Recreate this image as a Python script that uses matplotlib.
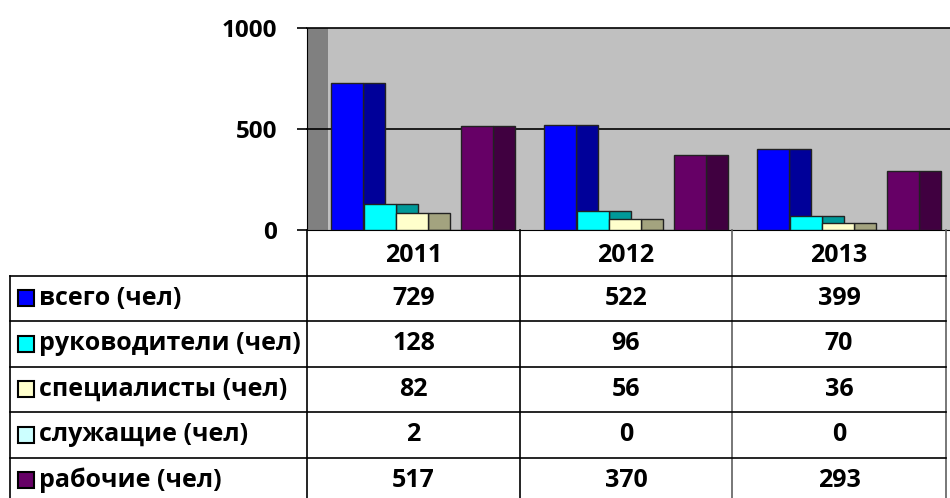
import matplotlib
matplotlib.use("Agg")
import matplotlib.pyplot as plt
from matplotlib.patches import Rectangle

plt.rcParams['font.family'] = ['Open Sans', 'DejaVu Sans']

# ---- data ----
years = ["2011", "2012", "2013"]
series_names = ["всего (чел)", "руководители (чел)", "специалисты (чел)",
                "служащие (чел)", "рабочие (чел)"]
vsego = [729, 522, 399]
rukovoditeli = [128, 96, 70]
specialisty = [82, 56, 36]
sluzhashchie = [2, 0, 0]
rabochie = [517, 370, 293]
series_values = [vsego, rukovoditeli, specialisty, sluzhashchie, rabochie]
y_ticks = [0, 500, 1000]

front_colors = ["#0000FF", "#00FFFF", "#FFFFCC", "#CCFFFF", "#660066"]
side_colors = ["#000099", "#009999", "#A3A37F", "#99CCCC", "#400040"]

W, H = 950, 498
fig = plt.figure(figsize=(W / 100, H / 100), dpi=100)

# chart axes in pixel layout
x0, x1 = 307, 950
y_top, y_zero = 28, 230
cat_w = 213.0
ax = fig.add_axes([x0 / W, (H - y_zero) / H, (x1 - x0) / W, (y_zero - y_top) / H])
ax.set_facecolor("#C0C0C0")
ax.set_xlim(-0.5, -0.5 + (x1 - x0) / cat_w)
ax.set_ylim(0, 1000)

# left wall
ax.add_patch(Rectangle((-0.5, 0), 21 / cat_w, 1000, facecolor="#808080",
                       edgecolor="none", zorder=0.5))
for yv in y_ticks[1:]:
    ax.axhline(yv, color="black", lw=1.2, zorder=1, clip_on=False)

off0 = 24 / cat_w
slot = 32.5 / cat_w
fw = 32 / cat_w
sw = 22 / cat_w
z = 2
for g in range(len(years)):
    for i, vals in enumerate(series_values):
        left = g - 0.5 + off0 + i * slot
        ax.bar(left + fw, vals[g], width=sw, align="edge", color=side_colors[i],
               edgecolor="#222222", lw=1, zorder=z)
        z += 1
        ax.bar(left, vals[g], width=fw, align="edge", color=front_colors[i],
               edgecolor="#222222", lw=1, zorder=z)
        z += 1

for s in ["top", "right"]:
    ax.spines[s].set_visible(False)
ax.spines["left"].set_color("black")
ax.spines["bottom"].set_color("black")
ax.set_xticks([])
ax.set_yticks(y_ticks)
ax.set_yticklabels([str(t) for t in y_ticks], fontsize=17.5, fontweight="bold")
ax.tick_params(axis="y", length=7.5, width=1.2, pad=14, direction="out")

# ---- data table ----
tab = fig.add_axes([0, 0, 1, 1], facecolor="none")
tab.set_xlim(0, W)
tab.set_ylim(H, 0)
tab.axis("off")
col_edges = [307, 520, 732, 946]
row_edges = [230, 275.5, 321, 366.5, 412, 457.5, 503]
left_edge = 10
lc = "#000000"
for i, xe in enumerate(col_edges):
    tab.plot([xe, xe], [row_edges[0], row_edges[-1]], color=lc if i < 2 else "#606060", lw=1.2)
tab.plot([left_edge, left_edge], [row_edges[1], row_edges[-1]], color=lc, lw=1.2)
for ye in row_edges[1:]:
    tab.plot([left_edge, col_edges[-1]], [ye, ye], color=lc, lw=1.2)

fs = 18
for j, yr in enumerate(years):
    cx = (col_edges[j] + col_edges[j + 1]) / 2
    cy = (row_edges[0] + row_edges[1]) / 2 + 3
    tab.text(cx, cy, yr, ha="center", va="center", fontsize=fs, fontweight="bold")

for i, name in enumerate(series_names):
    cy = (row_edges[i + 1] + row_edges[i + 2]) / 2
    tab.add_patch(Rectangle((18, cy - 8), 16, 16, facecolor=front_colors[i],
                            edgecolor="black", lw=1.5))
    tab.text(39, cy, name, ha="left", va="center", fontsize=fs, fontweight="bold")
    for j in range(len(years)):
        cx = (col_edges[j] + col_edges[j + 1]) / 2
        tab.text(cx, cy, str(series_values[i][j]), ha="center", va="center",
                 fontsize=fs, fontweight="bold")

fig.savefig("out.png", dpi=100)
